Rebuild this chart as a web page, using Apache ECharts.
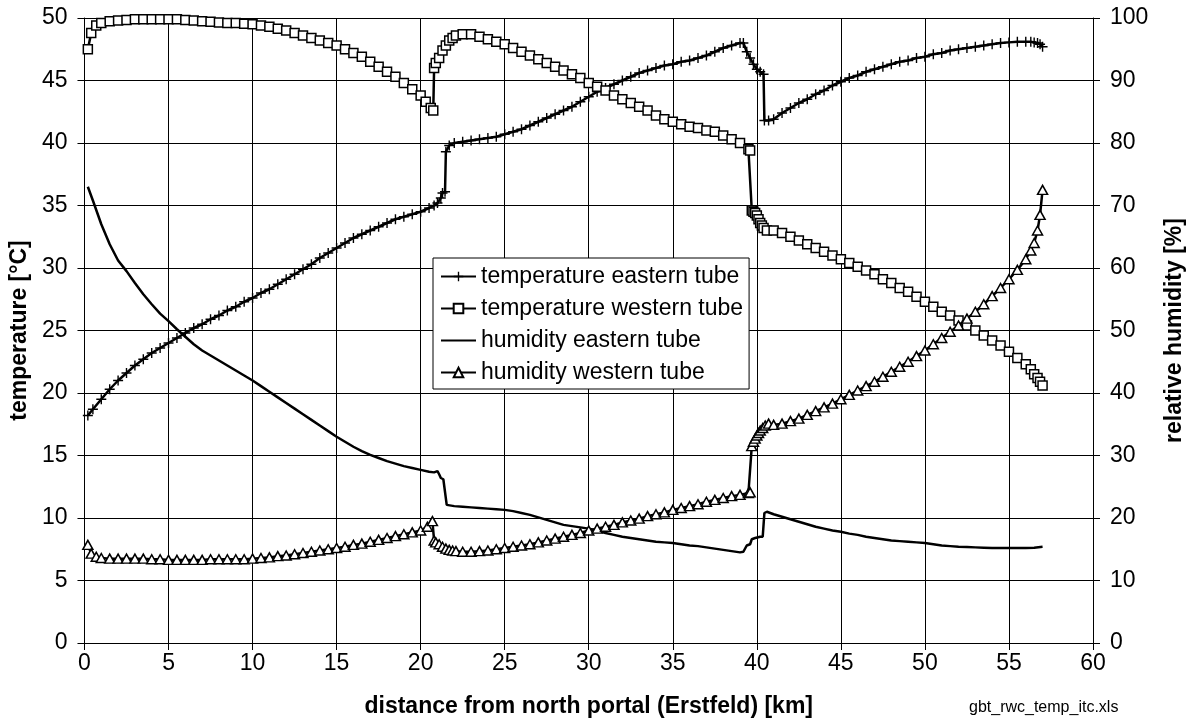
<!DOCTYPE html>
<html>
<head>
<meta charset="utf-8">
<script src="https://cdn.jsdelivr.net/npm/echarts@6/dist/echarts.min.js"></script>
<style>
html,body{margin:0;padding:0;background:#fff;}
#chart{width:1194px;height:724px;}
</style>
</head>
<body>
<div id="chart"></div>
<script>
// ---------- data ----------
const xTicks = [0,5,10,15,20,25,30,35,40,45,50,55,60];

const tempEastKm = [0.2,0.5,1,1.5,2,2.5,3,3.5,4,4.5,5,5.5,6,6.5,7,7.5,8,8.5,9,9.5,10,10.5,11,11.5,12,12.5,13,13.5,14,14.5,15,15.5,16,16.5,17,17.5,18,18.5,19,19.5,20,20.5,20.8,21,21.2,21.3,21.45,21.5,21.7,22,22.5,23,23.5,24,24.5,25,25.5,26,26.5,27,27.5,28,28.5,29,29.5,30,30.5,31,31.5,32,32.5,33,33.5,34,34.5,35,35.5,36,36.5,37,37.5,38,38.5,39,39.2,39.4,39.6,39.8,40,40.2,40.4,40.45,40.7,41,41.5,42,42.5,43,43.5,44,44.5,45,45.5,46,46.5,47,47.5,48,48.5,49,49.5,50,50.5,51,51.5,52,52.5,53,53.5,54,54.5,55,55.5,56,56.3,56.5,56.7,56.85,57];
const tempEastC = [18.2,18.7,19.5,20.3,21.0,21.6,22.2,22.7,23.2,23.6,24.0,24.4,24.8,25.2,25.5,25.9,26.2,26.6,26.9,27.3,27.6,28.0,28.3,28.7,29.1,29.5,29.9,30.3,30.8,31.2,31.6,32.0,32.4,32.7,33.0,33.3,33.6,33.9,34.1,34.3,34.5,34.8,35.0,35.2,35.6,36.0,36.1,39.3,39.8,40.0,40.1,40.2,40.3,40.4,40.5,40.7,40.9,41.1,41.4,41.7,42.0,42.3,42.6,42.9,43.3,43.7,44.1,44.4,44.7,45.0,45.3,45.6,45.8,46.0,46.2,46.3,46.5,46.6,46.8,47.0,47.3,47.6,47.8,48.0,48.0,47.3,46.8,46.3,45.9,45.7,45.5,41.8,41.8,41.9,42.4,42.8,43.2,43.5,43.9,44.2,44.6,44.9,45.2,45.4,45.7,45.9,46.1,46.3,46.5,46.6,46.8,46.9,47.1,47.2,47.4,47.5,47.6,47.7,47.8,47.9,48.0,48.05,48.1,48.1,48.1,48.05,48.0,47.9,47.7];

const tempWestKm = [0.2,0.4,0.7,1,1.5,2,2.5,3,3.5,4,4.5,5,5.5,6,6.5,7,7.5,8,8.5,9,9.5,10,10.5,11,11.5,12,12.5,13,13.5,14,14.5,15,15.5,16,16.5,17,17.5,18,18.5,19,19.5,20,20.3,20.6,20.75,20.8,20.9,21.1,21.3,21.5,21.7,21.9,22.1,22.5,23,23.5,24,24.5,25,25.5,26,26.5,27,27.5,28,28.5,29,29.5,30,30.5,31,31.5,32,32.5,33,33.5,34,34.5,35,35.5,36,36.5,37,37.5,38,38.5,39,39.5,39.6,39.7,39.8,39.9,40,40.1,40.2,40.3,40.4,40.6,41,41.5,42,42.5,43,43.5,44,44.5,45,45.5,46,46.5,47,47.5,48,48.5,49,49.5,50,50.5,51,51.5,52,52.5,53,53.5,54,54.5,55,55.5,56,56.3,56.5,56.7,56.85,57];
const tempWestC = [47.5,48.8,49.4,49.6,49.75,49.8,49.85,49.9,49.9,49.9,49.9,49.9,49.9,49.85,49.8,49.75,49.7,49.65,49.6,49.6,49.55,49.5,49.4,49.3,49.15,49.0,48.8,48.6,48.4,48.2,48.0,47.8,47.5,47.2,46.9,46.5,46.1,45.7,45.3,44.8,44.3,43.8,43.3,42.8,42.6,46.0,46.4,46.8,47.4,47.8,48.2,48.4,48.6,48.7,48.7,48.5,48.3,48.1,47.9,47.6,47.3,47.0,46.7,46.4,46.1,45.8,45.5,45.2,44.8,44.5,44.2,43.8,43.5,43.2,42.9,42.6,42.2,41.9,41.7,41.5,41.3,41.2,41.0,40.9,40.6,40.3,40.0,39.5,39.4,34.6,34.5,34.4,34.2,33.9,33.6,33.4,33.2,33.0,33.0,32.8,32.5,32.2,31.9,31.6,31.3,31.0,30.7,30.4,30.1,29.8,29.5,29.1,28.8,28.4,28.1,27.7,27.3,26.9,26.5,26.2,25.8,25.4,25.0,24.6,24.2,23.8,23.3,22.8,22.3,21.9,21.5,21.2,20.9,20.6];

const humEastKm = [0.2,0.5,1,1.5,2,2.5,3,3.5,4,4.5,5,5.5,6,6.5,7,7.5,8,8.5,9,9.5,10,10.5,11,11.5,12,12.5,13,13.5,14,14.5,15,15.5,16,16.5,17,17.5,18,18.5,19,19.5,20,20.5,20.8,21,21.1,21.2,21.35,21.45,21.55,22,22.5,23,23.5,24,24.5,25,25.5,26,26.5,27,27.5,28,28.5,29,29.5,30,30.5,31,31.5,32,32.5,33,33.5,34,34.5,35,35.5,36,36.5,37,37.5,38,38.5,39,39.2,39.4,39.6,39.7,39.9,40.2,40.35,40.45,40.6,41,41.5,42,42.5,43,43.5,44,44.5,45,45.5,46,46.5,47,47.5,48,48.5,49,49.5,50,50.5,51,51.5,52,52.5,53,53.5,54,54.5,55,55.5,56,56.5,57];
const humEastPct = [73.0,70.8,67.0,63.8,61.2,59.5,57.6,55.8,54.2,52.7,51.5,50.2,49.0,47.8,46.8,46.0,45.2,44.4,43.6,42.8,42.0,41.1,40.2,39.3,38.4,37.5,36.6,35.7,34.8,33.9,33.0,32.2,31.4,30.7,30.1,29.6,29.1,28.7,28.3,28.0,27.7,27.4,27.3,27.5,27.0,26.4,26.2,26.3,22.1,21.9,21.8,21.7,21.6,21.5,21.4,21.3,21.1,20.8,20.5,20.1,19.7,19.3,18.9,18.7,18.5,18.3,18.0,17.6,17.3,17.0,16.8,16.6,16.4,16.2,16.1,16.0,15.8,15.6,15.5,15.3,15.1,14.9,14.7,14.5,14.6,15.6,15.8,16.6,16.8,17.0,17.0,20.8,21.0,20.6,20.2,19.8,19.4,19.0,18.6,18.3,18.0,17.8,17.5,17.3,17.0,16.8,16.6,16.4,16.3,16.2,16.1,16.0,15.8,15.6,15.5,15.4,15.35,15.3,15.25,15.2,15.2,15.2,15.2,15.2,15.25,15.4];

const humWestKm = [0.2,0.4,0.7,1,1.5,2,2.5,3,3.5,4,4.5,5,5.5,6,6.5,7,7.5,8,8.5,9,9.5,10,10.5,11,11.5,12,12.5,13,13.5,14,14.5,15,15.5,16,16.5,17,17.5,18,18.5,19,19.5,20,20.4,20.7,20.8,20.9,21.1,21.3,21.5,21.7,21.9,22.1,22.5,23,23.5,24,24.5,25,25.5,26,26.5,27,27.5,28,28.5,29,29.5,30,30.5,31,31.5,32,32.5,33,33.5,34,34.5,35,35.5,36,36.5,37,37.5,38,38.5,39,39.5,39.6,39.7,39.8,39.9,40,40.1,40.2,40.35,40.5,40.7,41,41.5,42,42.5,43,43.5,44,44.5,45,45.5,46,46.5,47,47.5,48,48.5,49,49.5,50,50.5,51,51.5,52,52.5,53,53.5,54,54.5,55,55.5,56,56.3,56.5,56.7,56.85,57];
const humWestPct = [15.7,14.3,13.8,13.6,13.5,13.5,13.5,13.5,13.5,13.4,13.4,13.3,13.3,13.3,13.3,13.3,13.4,13.4,13.4,13.4,13.4,13.5,13.6,13.7,13.9,14.0,14.2,14.4,14.6,14.8,15.0,15.2,15.4,15.7,15.9,16.2,16.5,16.8,17.1,17.4,17.7,18.0,18.6,19.5,16.4,16.1,15.8,15.4,15.1,14.9,14.8,14.7,14.6,14.6,14.7,14.8,15.0,15.2,15.4,15.6,15.8,16.1,16.4,16.7,17.0,17.3,17.6,18.0,18.3,18.6,18.9,19.3,19.6,19.9,20.3,20.6,20.9,21.3,21.6,21.9,22.2,22.6,22.9,23.2,23.5,23.7,24.0,24.1,31.5,32.2,32.7,33.2,33.6,34.0,34.4,34.8,35.1,34.9,35.1,35.5,35.9,36.5,37.1,37.7,38.3,39.0,39.7,40.4,41.1,41.8,42.6,43.4,44.2,45.0,45.9,46.8,47.8,48.8,49.8,50.8,51.9,53.0,54.2,55.5,56.8,58.2,59.7,61.4,62.8,64.0,66.0,68.5,72.5];

const seriesNames = ['temperature eastern tube','temperature western tube','humidity eastern tube','humidity western tube'];

// ---------- chart ----------
const zip = (a, b) => a.map((v, i) => [v, b[i]]);
const FONT = 'Liberation Sans, Arial, sans-serif';
const plusPath = 'path://M4.3,0H5.7V10H4.3Z M0,4.3H10V5.7H0Z';

const chart = echarts.init(document.getElementById('chart'), null, {renderer: 'canvas'});
chart.setOption({
  animation: false,
  backgroundColor: '#fff',
  grid: {left: 83, right: 96, top: 18, bottom: 81, containLabel: false},
  xAxis: {
    type: 'value', min: 0, max: 60, interval: 5,
    name: 'distance from north portal (Erstfeld) [km]',
    nameLocation: 'middle', nameGap: 52,
    nameTextStyle: {fontFamily: FONT, fontSize: 23, fontWeight: 'bold', color: '#000'},
    axisLine: {show: true, lineStyle: {color: '#000', width: 1}},
    axisTick: {show: true, length: 7, lineStyle: {color: '#000'}},
    axisLabel: {margin: 9, fontFamily: FONT, fontSize: 23, color: '#000', formatter: v => xTicks.includes(v) ? String(v) : ''},
    splitLine: {show: true, lineStyle: {color: '#000', width: 1}}
  },
  yAxis: [{
    type: 'value', min: 0, max: 50, interval: 5, position: 'left',
    name: 'temperature [°C]', nameLocation: 'middle', nameGap: 48, nameRotate: 90,
    nameTextStyle: {fontFamily: FONT, fontSize: 23, fontWeight: 'bold', color: '#000'},
    axisLine: {show: true, lineStyle: {color: '#000', width: 1}},
    axisTick: {show: true, length: 7, lineStyle: {color: '#000'}},
    axisLabel: {margin: 17, fontFamily: FONT, fontSize: 23, color: '#000'},
    splitLine: {show: true, lineStyle: {color: '#000', width: 1}}
  }, {
    type: 'value', min: 0, max: 100, interval: 10, position: 'right',
    name: 'relative humidity [%]', nameLocation: 'middle', nameGap: 70, nameRotate: 90,
    nameTextStyle: {fontFamily: FONT, fontSize: 23, fontWeight: 'bold', color: '#000'},
    axisLine: {show: true, lineStyle: {color: '#000', width: 1}},
    axisTick: {show: true, length: 7, lineStyle: {color: '#000'}},
    axisLabel: {margin: 17, fontFamily: FONT, fontSize: 23, color: '#000'},
    splitLine: {show: false}
  }],
  legend: {
    orient: 'vertical', left: 433, top: 258,
    padding: [7, 6, 5, 7],
    itemWidth: 35, itemHeight: 12, itemGap: 9,
    backgroundColor: '#fff', borderColor: '#000', borderWidth: 1, borderRadius: 0,
    textStyle: {fontFamily: FONT, fontSize: 23, color: '#000'},
    data: [
      {name: seriesNames[0]},
      {name: seriesNames[1]},
      {name: seriesNames[2], itemStyle: {opacity: 0}},
      {name: seriesNames[3]}
    ]
  },
  graphic: [{
    type: 'text', left: 969, top: 700,
    style: {text: 'gbt_rwc_temp_itc.xls', font: '16px ' + FONT, fill: '#000'}
  }],
  series: [{
    name: seriesNames[0], type: 'line', yAxisIndex: 0,
    data: zip(tempEastKm, tempEastC),
    symbol: plusPath, symbolSize: 10, showAllSymbol: true,
    itemStyle: {color: '#000', borderWidth: 0},
    lineStyle: {color: '#000', width: 2.5}, z: 2
  }, {
    name: seriesNames[1], type: 'line', yAxisIndex: 0,
    data: zip(tempWestKm, tempWestC),
    symbol: 'rect', symbolSize: 9, showAllSymbol: true,
    itemStyle: {color: '#fff', borderColor: '#000', borderWidth: 1.5},
    lineStyle: {color: '#000', width: 2.5}, z: 3
  }, {
    name: seriesNames[2], type: 'line', yAxisIndex: 1,
    data: zip(humEastKm, humEastPct),
    symbol: 'none', showSymbol: false,
    itemStyle: {color: '#000'},
    lineStyle: {color: '#000', width: 2.5}, z: 4
  }, {
    name: seriesNames[3], type: 'line', yAxisIndex: 1,
    data: zip(humWestKm, humWestPct),
    symbol: 'triangle', symbolSize: [10, 9], showAllSymbol: true,
    itemStyle: {color: '#fff', borderColor: '#000', borderWidth: 1.5},
    lineStyle: {color: '#000', width: 2.5}, z: 5
  }]
});
</script>
</body>
</html>
